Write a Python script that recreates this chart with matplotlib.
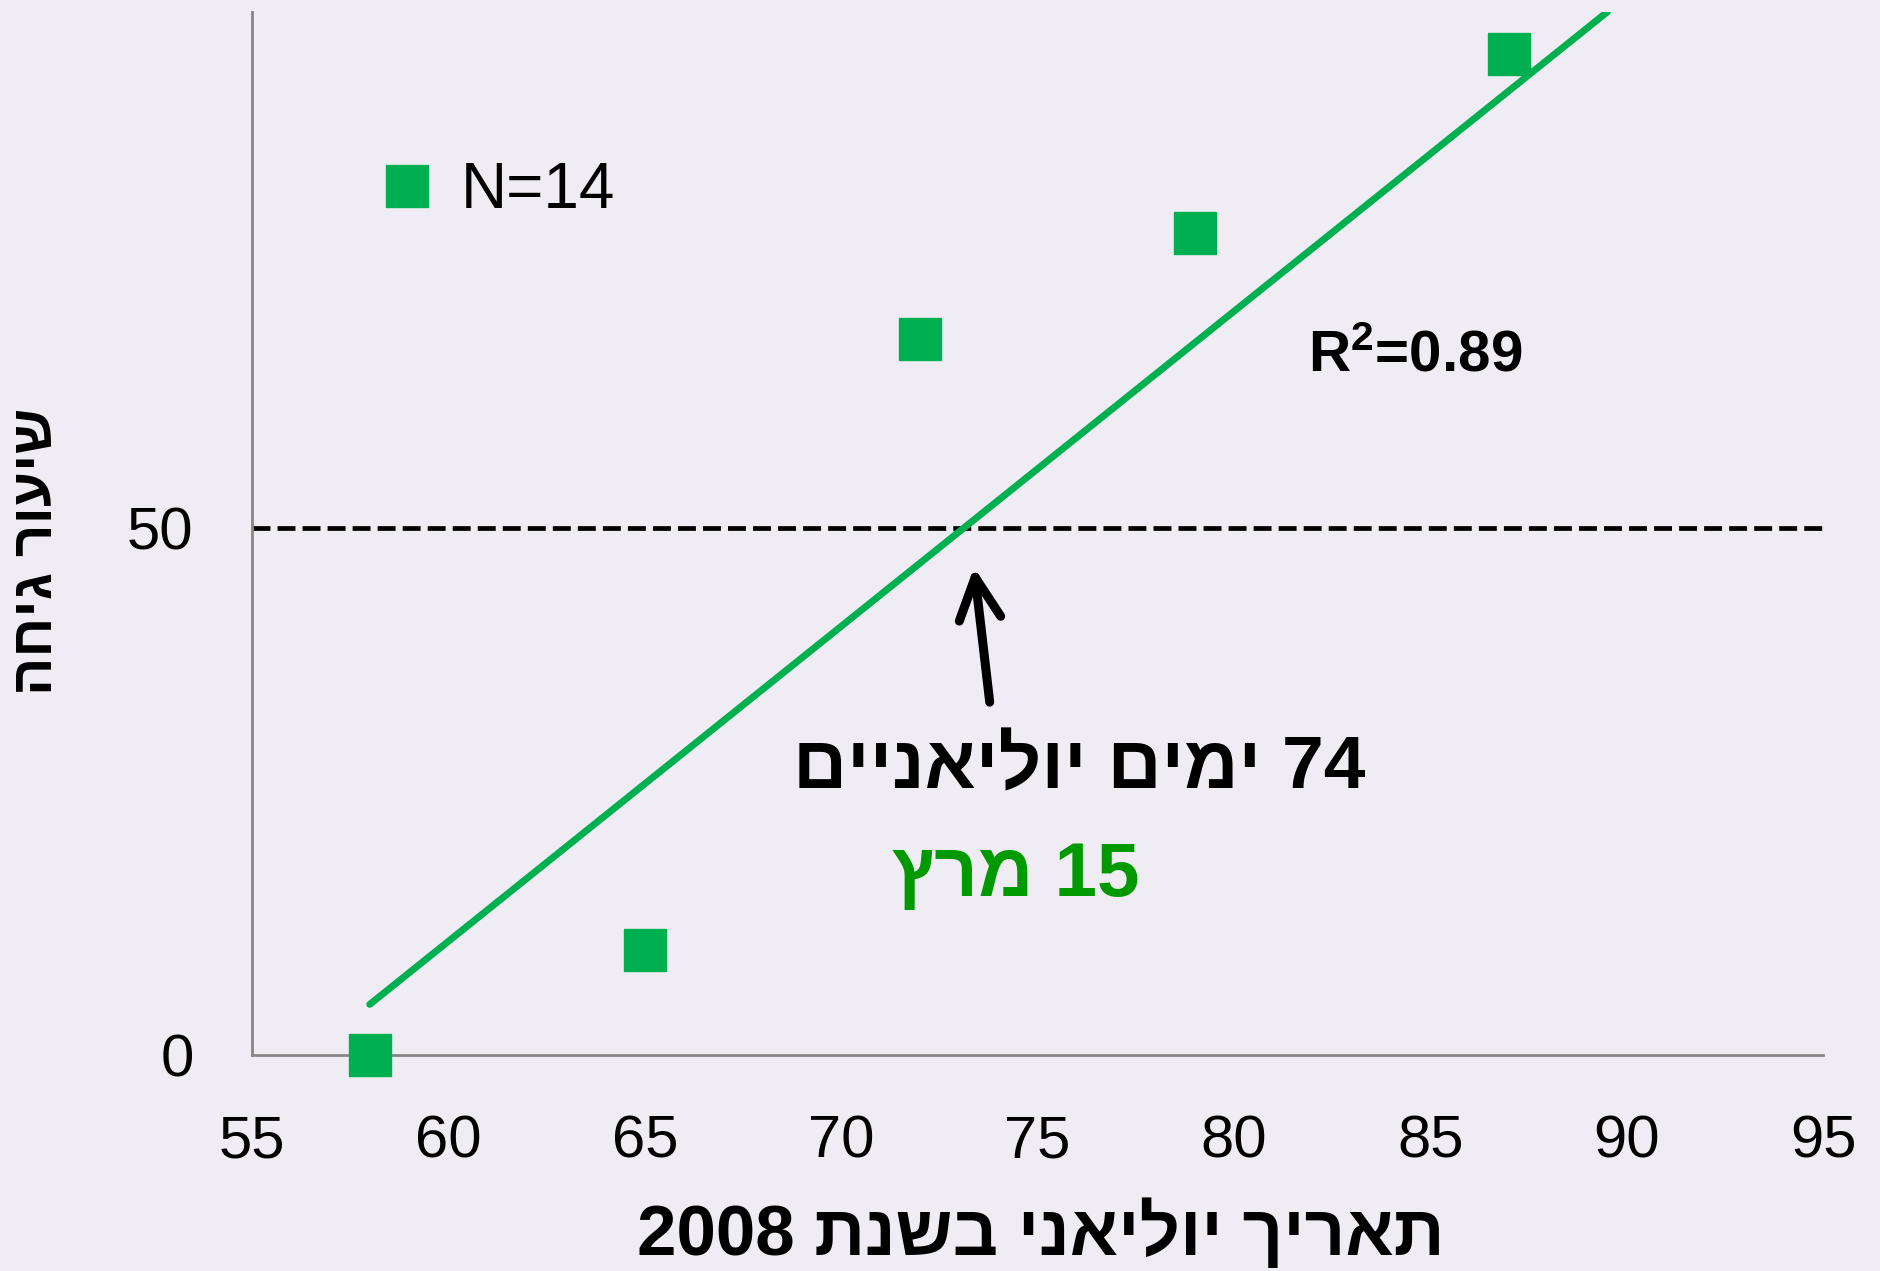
import matplotlib
matplotlib.use('Agg')
import matplotlib.pyplot as plt

# data
day = [58, 65, 72, 79, 87]
rate = [0, 10, 68, 78, 95]
trend_x = [58, 89.5]
trend_slope = 2.99
trend_icpt = -168.6
threshold = 50
x_ticks = [55, 60, 65, 70, 75, 80, 85, 90, 95]
y_ticks = [0, 50]

def rtl(s):
    # matplotlib has no bidi: reverse word order and hebrew letters
    out = []
    for w in s.split(' ')[::-1]:
        if any('\u0590' <= ch <= '\u05ff' for ch in w):
            w = w[::-1]
        out.append(w)
    return ' '.join(out)

plt.rcParams['font.family'] = ['Liberation Sans', 'DejaVu Sans']
plt.rcParams['mathtext.fontset'] = 'custom'
plt.rcParams['mathtext.rm'] = 'Liberation Sans'
plt.rcParams['mathtext.bf'] = 'Liberation Sans:bold'
bg = '#EFEDF3'
green = '#00B050'

fig = plt.figure(figsize=(18.81, 12.71), dpi=100, facecolor=bg)
ax = fig.add_axes([0.1339, 0.1698, 0.9694 - 0.1339, 0.9906 - 0.1698])
ax.set_facecolor(bg)

ax.plot(day, rate, 's', color=green, markersize=30, label='N=14',
        clip_on=False, zorder=4)
ty = [trend_slope * x + trend_icpt for x in trend_x]
ax.plot(trend_x, ty, color=green, lw=5, solid_capstyle='round', zorder=2)
ax.axhline(threshold, color='black', lw=3.4, dashes=(3.8, 1.5), zorder=1)

ax.set_xlim(55, 95)
ax.set_ylim(0, 99)
ax.set_xticks(x_ticks)
ax.set_yticks(y_ticks)
ax.tick_params(axis='both', length=0, labelsize=43)
ax.tick_params(axis='x', pad=43)
ax.tick_params(axis='y', pad=42)
for s in ['top', 'right']:
    ax.spines[s].set_visible(False)
for s in ['left', 'bottom']:
    ax.spines[s].set_color('#868686')
    ax.spines[s].set_linewidth(2)
    ax.spines[s].set_zorder(3)

ax.set_xlabel(rtl('תאריך יוליאני בשנת 2008'), fontsize=51, fontweight='bold')
ax.xaxis.set_label_coords(0.502, -0.172)
ax.xaxis.label.set_va('center')
ax.set_ylabel(rtl('שיעור גיחה'), fontsize=41, fontweight='bold')
ax.yaxis.set_label_coords(-0.137, 0.483)
ax.yaxis.label.set_va('center')

ax.legend(loc='center left', bbox_to_anchor=(0.0824, 0.828), frameon=False,
          fontsize=46, handletextpad=0.45, markerscale=1, handlelength=0.8,
          borderaxespad=0, borderpad=0)

ax.text(84.6, 66.3, r'$\mathbf{R^2}$=0.89', fontsize=42, fontweight='bold',
        ha='center', va='center')
ax.annotate('', xy=(73.38, 46.3), xytext=(73.78, 33.5),
            arrowprops=dict(arrowstyle='->', lw=6.5, color='black',
                            mutation_scale=75, shrinkA=0, shrinkB=0,
                            joinstyle='round', capstyle='round'))
ax.text(76.05, 27.2, rtl('74 ימים יוליאניים'), fontsize=54, fontweight='bold',
        ha='center', va='center')
ax.text(74.45, 16.95, rtl('15 מרץ'), fontsize=55, fontweight='bold',
        color='#009900', ha='center', va='center')

fig.savefig('out.png', dpi=100, facecolor=bg)
